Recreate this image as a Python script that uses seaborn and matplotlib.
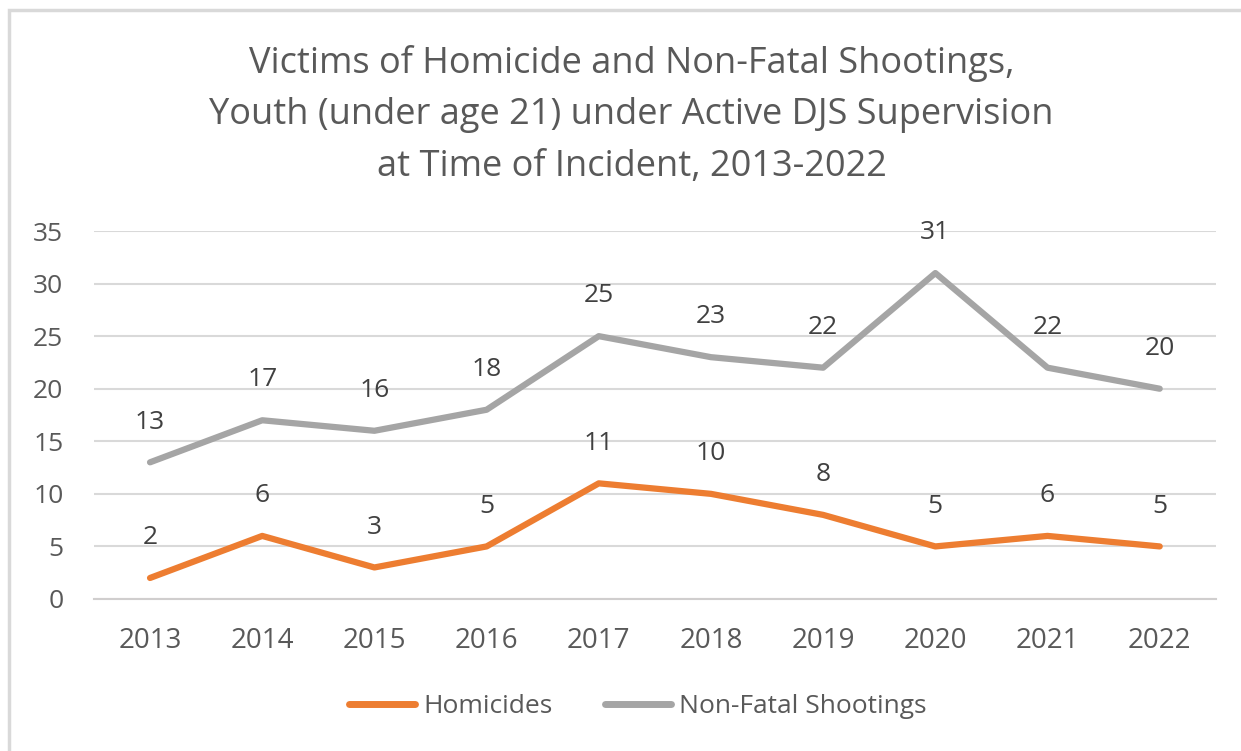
import pandas as pd
import seaborn as sns
import matplotlib.pyplot as plt
from matplotlib.patches import Rectangle

years = ['2013', '2014', '2015', '2016', '2017', '2018', '2019', '2020', '2021', '2022']
homicides = [2, 6, 3, 5, 11, 10, 8, 5, 6, 5]
shootings = [13, 17, 16, 18, 25, 23, 22, 31, 22, 20]
series = ['Homicides', 'Non-Fatal Shootings']
colors = ['#ED7D31', '#A5A5A5']

df = pd.DataFrame({'Year': years * 2,
                   'Victims': homicides + shootings,
                   'Series': [series[0]] * len(years) + [series[1]] * len(years)})

sns.set_theme(style="white")
plt.rcParams['font.family'] = ['Open Sans', 'DejaVu Sans']

fig = plt.figure(figsize=(12.41, 7.51), dpi=100)
ax = fig.add_axes([0.0757, 0.2024, 0.904, 0.490])

# outer chart frame
fig.patches.append(Rectangle((9 / 1241, -0.1), 1.2, 1 - 10 / 751 + 0.1, transform=fig.transFigure,
                             fill=False, edgecolor='#D9D9D9', linewidth=2.5))

sns.lineplot(data=df, x='Year', y='Victims', hue='Series', palette=colors,
             linewidth=4.5, ax=ax, legend=False, sort=False)
for line in ax.lines:
    line.set_solid_capstyle('round')
    line.set_solid_joinstyle('round')

for vals in (homicides, shootings):
    for i, v in enumerate(vals):
        ax.annotate(str(v), (i, v), xytext=(0, 29), textcoords='offset points',
                    ha='center', va='center', fontsize=19, color='#404040')

ax.set_xlim(-0.5, len(years) - 0.5)
ax.set_ylim(0, 35)
ax.set_yticks(range(0, 36, 5))
ax.yaxis.grid(True, color='#D9D9D9', linewidth=1.5)
ax.set_axisbelow(True)
for s in ['top', 'right', 'left']:
    ax.spines[s].set_visible(False)
ax.spines['bottom'].set_color('#D0CECE')
ax.spines['bottom'].set_linewidth(1.5)
ax.tick_params(axis='both', length=0, labelsize=19, labelcolor='#595959')
ax.tick_params(axis='x', labelsize=20, pad=20)
ax.tick_params(axis='y', pad=22)
ax.set_xlabel('')
ax.set_ylabel('')

fig.text(0.509, 0.847, 'Victims of Homicide and Non-Fatal Shootings,\n'
         'Youth (under age 21) under Active DJS Supervision\n'
         'at Time of Incident, 2013-2022',
         ha='center', va='center', fontsize=26, color='#595959', linespacing=1.57)

handles = [plt.Line2D([], [], color=c, linewidth=5, solid_capstyle='round') for c in colors]
fig.legend(handles, series, loc='center', bbox_to_anchor=(0.514, 0.059), ncol=2, frameon=False,
           fontsize=19, labelcolor='#595959', handlelength=2.5, handletextpad=0.3,
           columnspacing=2.0)

fig.savefig('out.png', dpi=100)
